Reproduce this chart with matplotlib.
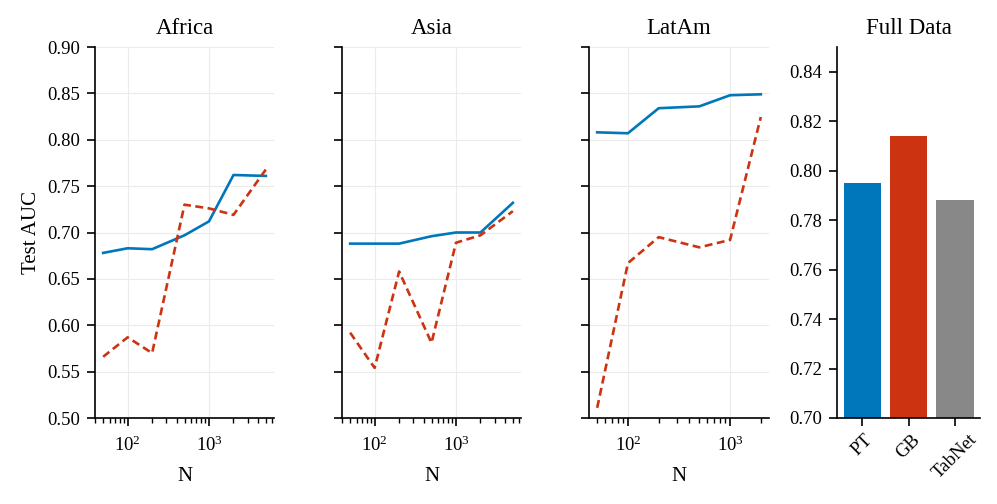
import numpy as np
import matplotlib
matplotlib.use("Agg")
import matplotlib.pyplot as plt
from matplotlib.ticker import NullFormatter

plt.rcParams['font.family'] = ['Liberation Serif', 'DejaVu Serif']
plt.rcParams['mathtext.fontset'] = 'stix'

# values
regions = ['Africa', 'Asia', 'LatAm']
n_africa = [50, 100, 200, 500, 1000, 2000, 5000]
pt_africa = [0.678, 0.683, 0.682, 0.697, 0.712, 0.762, 0.761]
gb_africa = [0.566, 0.587, 0.570, 0.730, 0.726, 0.719, 0.768]

n_asia = [50, 100, 200, 500, 1000, 2000, 5000]
pt_asia = [0.688, 0.688, 0.688, 0.696, 0.700, 0.700, 0.732]
gb_asia = [0.592, 0.554, 0.658, 0.581, 0.689, 0.697, 0.723]

n_latam = [50, 100, 200, 500, 1000, 2000]
pt_latam = [0.808, 0.807, 0.834, 0.836, 0.848, 0.849]
gb_latam = [0.511, 0.667, 0.695, 0.684, 0.692, 0.8245]

models = ['PT', 'GB', 'TabNet']
full_auc = [0.795, 0.814, 0.788]

blue = '#0077BB'
red = '#CC3311'
grey = '#888888'

fig = plt.figure(figsize=(9.97, 5.04), dpi=100)
W, H = 997, 504
def box(l, r, t, b):
    return [l / W, 1 - b / H, (r - l) / W, (b - t) / H]

ax1 = fig.add_axes(box(95, 274, 47, 418))
ax2 = fig.add_axes(box(342, 521, 47, 418), sharey=ax1)
ax3 = fig.add_axes(box(589, 769, 47, 418), sharey=ax1)
ax4 = fig.add_axes(box(837, 980, 47, 418))

data = [(n_africa, pt_africa, gb_africa),
        (n_asia, pt_asia, gb_asia),
        (n_latam, pt_latam, gb_latam)]

for ax, name, (n, pt, gb) in zip([ax1, ax2, ax3], regions, data):
    ax.plot(n, pt, color=blue, lw=1.9)
    ax.plot(n, gb, color=red, lw=1.9, ls=(0, (3.0, 1.7)))
    ax.set_xscale('log')
    ax.xaxis.set_minor_formatter(NullFormatter())
    ax.set_title(name, fontsize=16.5, pad=9)
    ax.set_xlabel('N', fontsize=15, labelpad=8)
    ax.grid(True, which='major', color='#ebebeb', lw=0.8)
    ax.set_axisbelow(True)
    ax.tick_params(axis='x', which='major', pad=7)

ax1.set_ylim(0.5, 0.9)
ax1.set_yticks(np.arange(0.5, 0.901, 0.05))
ax1.set_yticklabels([f'{v:.2f}' for v in np.arange(0.5, 0.901, 0.05)])
ax1.set_ylabel('Test AUC', fontsize=15)
for ax in [ax2, ax3]:
    ax.tick_params(axis='y', labelleft=False)

ax4.bar(models, full_auc, color=[blue, red, grey], width=0.8)
ax4.set_ylim(0.70, 0.85)
ax4.set_yticks(np.arange(0.70, 0.841, 0.02))
ax4.set_yticklabels([f'{v:.2f}' for v in np.arange(0.70, 0.841, 0.02)])
ax4.set_title('Full Data', fontsize=16.5, pad=9)
ax4.tick_params(axis='x', rotation=45)

for ax in [ax1, ax2, ax3, ax4]:
    ax.spines['top'].set_visible(False)
    ax.spines['right'].set_visible(False)
    for s in ['left', 'bottom']:
        ax.spines[s].set_linewidth(1.2)
    ax.tick_params(which='major', length=6, width=1.2, labelsize=13.5)
    ax.tick_params(which='minor', length=3.5, width=1.0)
    ax.tick_params(axis='y', pad=5)

fig.savefig('out.png', dpi=100)
